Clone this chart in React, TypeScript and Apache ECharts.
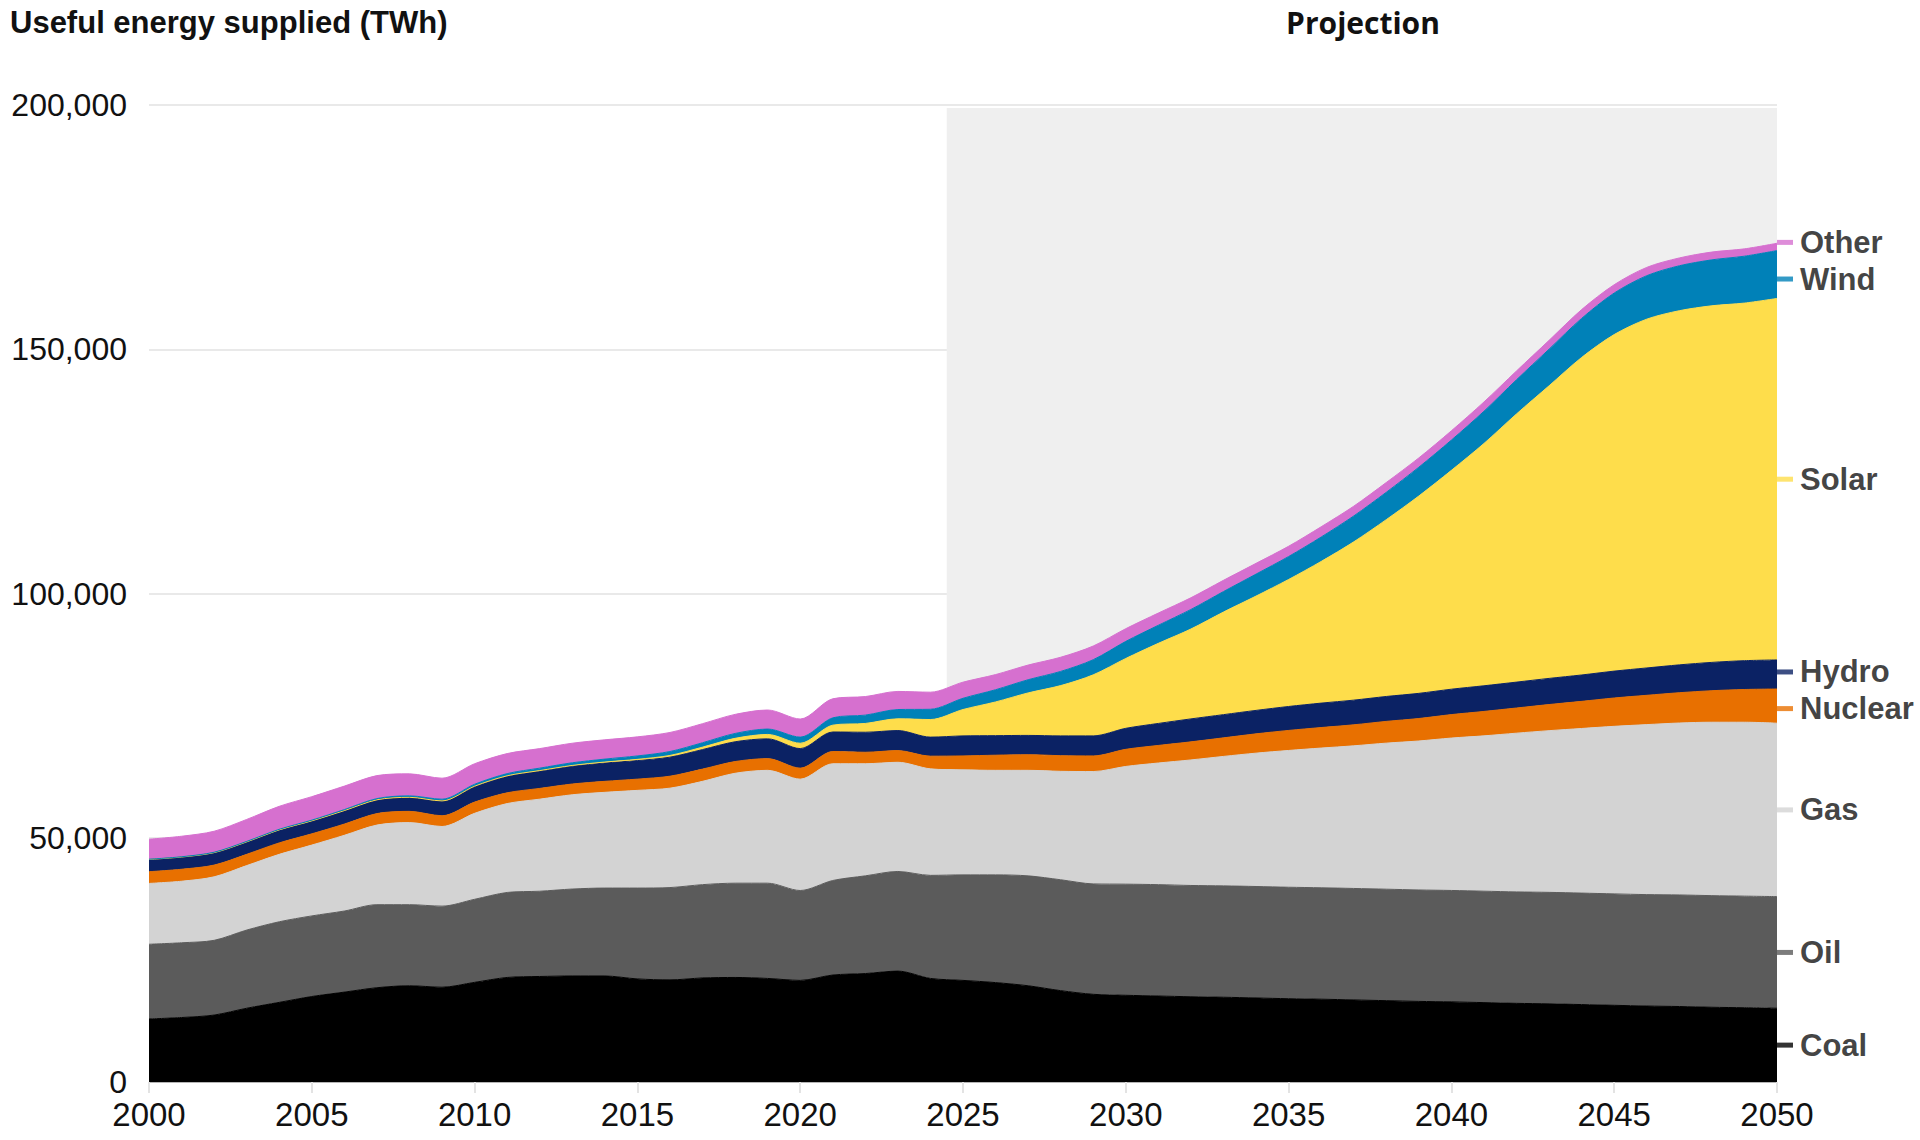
import React, { useEffect, useRef } from "react";
import * as echarts from "echarts";

// ---------------- data (TWh) ----------------
const years = [
  "2000", "2001", "2002", "2003", "2004", "2005", "2006", "2007", "2008", "2009",
  "2010", "2011", "2012", "2013", "2014", "2015", "2016", "2017", "2018", "2019",
  "2020", "2021", "2022", "2023", "2024", "2025", "2026", "2027", "2028", "2029",
  "2030", "2031", "2032", "2033", "2034", "2035", "2036", "2037", "2038", "2039",
  "2040", "2041", "2042", "2043", "2044", "2045", "2046", "2047", "2048", "2049", "2050",
];

const coal = [
  12900, 13200, 13700, 15100, 16300, 17500, 18400, 19300, 19700, 19400,
  20400, 21400, 21600, 21700, 21700, 21100, 20900, 21300, 21400, 21200,
  20800, 21900, 22200, 22700, 21200, 20800, 20350, 19700, 18700, 17950,
  17750, 17600, 17450, 17350, 17200, 17050, 16950, 16800, 16650, 16500,
  16400, 16250, 16100, 16000, 15850, 15700, 15550, 15450, 15300, 15200, 15100,
];

const oil = [
  15300, 15300, 15300, 16000, 16500, 16500, 16600, 17000, 16600, 16600,
  17000, 17400, 17450, 17800, 18000, 18600, 18900, 19100, 19300, 19500,
  18400, 19350, 20000, 20400, 21100, 21600, 22050, 22500, 22700, 22600,
  22750, 22800, 22780, 22800, 22820, 22820, 22810, 22820, 22820, 22810,
  22810, 22810, 22810, 22820, 22820, 22810, 22810, 22840, 22850, 22850, 22850,
];

const gas = [
  12450, 12600, 13000, 13200, 13800, 14500, 15500, 16300, 16800, 16300,
  17600, 18200, 18850, 19300, 19600, 20000, 20350, 21150, 22500, 23100,
  22800, 23900, 22950, 22350, 21800, 21500, 21400, 21600, 22200, 23000,
  24100, 24900, 25700, 26500, 27300, 28000, 28600, 29200, 29900, 30500,
  31200, 31800, 32500, 33100, 33700, 34300, 34800, 35200, 35500, 35600, 35500,
];

const nuclear = [
  2400, 2450, 2400, 2300, 2350, 2300, 2300, 2350, 2300, 2200,
  2300, 2200, 2200, 2200, 2250, 2300, 2450, 2500, 2400, 2400,
  2250, 2500, 2350, 2400, 2600, 2850, 3100, 3200, 3200, 3200,
  3500, 3600, 3700, 3800, 3950, 4100, 4200, 4300, 4450, 4600,
  4800, 5000, 5150, 5350, 5550, 5800, 6000, 6200, 6450, 6700, 7000,
];

const hydro = [
  2500, 2500, 2550, 2550, 2650, 2650, 2750, 2800, 2850, 3000,
  3200, 3400, 3550, 3650, 3750, 3800, 3900, 4000, 4050, 4050,
  4000, 4000, 4100, 4100, 3900, 4100, 4000, 3950, 4050, 4100,
  4300, 4500, 4700, 4750, 4800, 4900, 5000, 5050, 5100, 5150,
  5200, 5250, 5300, 5350, 5400, 5500, 5600, 5700, 5800, 5900, 5950,
];

const solar = [
  0, 0, 0, 0, 10, 10, 20, 20, 30, 40,
  50, 80, 100, 150, 200, 250, 350, 500, 700, 900,
  1100, 1400, 1800, 2400, 3600, 5400, 6900, 8700, 10300, 12500,
  14300, 16400, 18400, 21000, 23400, 26000, 29000, 32400, 36200, 40400,
  44800, 49600, 54900, 59900, 65000, 68900, 71400, 72500, 73000, 73200, 74000,
];

const wind = [
  50, 60, 80, 100, 120, 150, 200, 250, 300, 350,
  400, 450, 500, 550, 600, 700, 800, 900, 1000, 1100,
  1250, 1500, 1700, 1900, 2100, 2300, 2500, 2700, 2900, 3100,
  3500, 3700, 4000, 4200, 4500, 4700, 5000, 5300, 5600, 5900,
  6200, 6600, 7000, 7500, 8000, 8500, 8900, 9200, 9400, 9600, 9800,
];

const other = [
  4100, 4200, 4300, 4500, 4700, 4800, 4800, 4700, 4500, 4300,
  4200, 4100, 4000, 4000, 3950, 3900, 3900, 3900, 3900, 3900,
  3700, 3900, 3800, 3700, 3500, 3300, 3100, 3000, 2900, 2800,
  2600, 2500, 2400, 2300, 2200, 2100, 2100, 2000, 2000, 1900,
  1900, 1900, 1800, 1800, 1800, 1700, 1700, 1600, 1600, 1500, 1500,
];

const seriesNames = ["Coal", "Oil", "Gas", "Nuclear", "Hydro", "Solar", "Wind", "Other"];
const seriesValues = [coal, oil, gas, nuclear, hydro, solar, wind, other];
const seriesColors = ["#000000", "#5b5b5b", "#d3d3d3", "#e87000", "#0b2264", "#fedd4b", "#0081b8", "#d670cf"];

const yAxisTitle = "Useful energy supplied (TWh)";
const projectionLabel = "Projection";
const firstYear = 2000;
const lastYear = 2050;
const projectionStart = 2024.5;

const FONT = "'Liberation Sans', Arial, Helvetica, sans-serif";

function endLabelValues(): number[] {
  const last = seriesValues.map((v) => v[v.length - 1]);
  let cum = 0;
  const pos = last.map((v) => {
    const m = cum + v / 2;
    cum += v;
    return m;
  });
  const minGap = 7500;
  for (let iter = 0; iter < 30; iter++) {
    for (let i = 0; i < pos.length - 1; i++) {
      const gap = pos[i + 1] - pos[i];
      if (gap < minGap) {
        const d = (minGap - gap) / 2;
        pos[i] -= d;
        pos[i + 1] += d;
      }
    }
  }
  return pos;
}

function buildOption(): any {
  const areaSeries = seriesNames.map((name, i) => ({
    name,
    type: "line",
    xAxisIndex: 0,
    yAxisIndex: 0,
    stack: "total",
    smooth: 0.3,
    symbol: "none",
    showSymbol: false,
    z: 2,
    lineStyle: { width: 1, color: seriesColors[i] },
    itemStyle: { color: seriesColors[i] },
    areaStyle: { color: seriesColors[i], opacity: 1 },
    data: seriesValues[i],
  }));

  const shadeSeries = {
    name: "projection",
    type: "line",
    xAxisIndex: 1,
    yAxisIndex: 0,
    z: 1,
    silent: true,
    symbol: "none",
    lineStyle: { opacity: 0 },
    data: [[lastYear, 0]],
    markArea: {
      silent: true,
      z: 1,
      itemStyle: { color: "#efefef", opacity: 1 },
      data: [[{ xAxis: projectionStart, yAxis: 0 }, { xAxis: lastYear, yAxis: 199400 }]],
    },
  };

  const labelPos = endLabelValues();
  const labelSeries = {
    name: "labels",
    type: "scatter",
    xAxisIndex: 1,
    yAxisIndex: 0,
    clip: false,
    silent: true,
    z: 5,
    symbol: "rect",
    symbolSize: [16, 5],
    symbolOffset: [8, 0],
    data: seriesNames.map((name, i) => ({
      name,
      value: [lastYear, labelPos[i]],
      itemStyle: { color: seriesColors[i] },
    })),
    label: {
      show: true,
      position: "right",
      distance: 7,
      formatter: "{b}",
      fontFamily: FONT,
      fontSize: 31,
      fontWeight: "bold",
      color: "#111111",
    },
  };

  return {
    animation: false,
    backgroundColor: "#ffffff",
    grid: { left: 149, right: 143, top: 105, bottom: 58, containLabel: false, outerBoundsMode: "none" },
    xAxis: [
      {
        type: "category",
        data: years,
        boundaryGap: false,
        axisLine: { show: true, onZero: true, lineStyle: { color: "#b5b5b5", width: 1 } },
        axisTick: { show: true, interval: 4, length: 11, lineStyle: { color: "#e3e3e3", width: 2 } },
        axisLabel: {
          interval: 4,
          fontFamily: FONT,
          fontSize: 33,
          color: "#111111",
          margin: 16,
        },
        splitLine: { show: false },
      },
      {
        type: "value",
        min: firstYear,
        max: lastYear,
        show: false,
        splitLine: { show: false },
      },
    ],
    yAxis: {
      type: "value",
      min: 0,
      max: 200000,
      interval: 50000,
      axisLine: { show: false },
      axisTick: { show: false },
      axisLabel: {
        fontFamily: FONT,
        fontSize: 32,
        color: "#111111",
        margin: 22,
        formatter: (v: number) => v.toLocaleString("en-US"),
      },
      splitLine: { show: true, lineStyle: { color: "#e9e9e9", width: 2 } },
    },
    graphic: [
      {
        type: "text",
        x: 10,
        y: 22,
        style: {
          text: yAxisTitle,
          fontFamily: FONT,
          fontSize: 31,
          fontWeight: "bold",
          fill: "#111111",
          align: "left",
          verticalAlign: "middle",
        },
      },
      {
        type: "text",
        x: 1363,
        y: 22,
        style: {
          text: projectionLabel,
          fontFamily: "'Open Sans', sans-serif",
          fontSize: 30,
          fontWeight: "bold",
          fill: "#111111",
          align: "center",
          verticalAlign: "middle",
        },
      },
    ],
    series: [shadeSeries, ...areaSeries, labelSeries],
  };
}

export default function App() {
  const ref = useRef<HTMLDivElement>(null);
  useEffect(() => {
    if (!ref.current) return;
    const chart = echarts.init(ref.current, undefined, { renderer: "svg" });
    chart.setOption(buildOption());
    return () => {
      chart.dispose();
    };
  }, []);
  return (
    <div
      ref={ref}
      style={{ position: "fixed", left: 0, top: 0, width: 1920, height: 1140, background: "#ffffff" }}
    />
  );
}
